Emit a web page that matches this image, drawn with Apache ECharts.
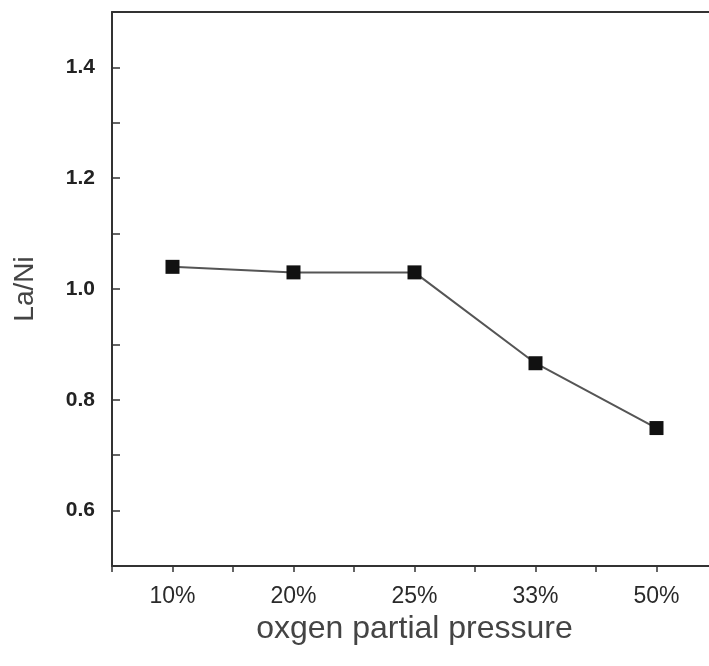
<!DOCTYPE html>
<html>
<head>
<meta charset="utf-8">
<script src="https://cdn.jsdelivr.net/npm/echarts@6/dist/echarts.min.js"></script>
<style>html,body{margin:0;padding:0;background:#fff;}#c{width:709px;height:666px;}</style>
</head>
<body>
<div id="c"></div>
<script>
var categories = ['10%', '20%', '25%', '33%', '50%'];
var laNi = [1.04, 1.03, 1.03, 0.866, 0.749];
var yLabels = ['0.6', '0.8', '1.0', '1.2', '1.4'];

var chart = echarts.init(document.getElementById('c'));
chart.setOption({
  animation: false,
  backgroundColor: '#fff',
  grid: { left: 112, top: 12, width: 605, bottom: 100, outerBoundsMode: 'none', show: false },
  xAxis: [{
    type: 'category', data: categories, position: 'bottom', boundaryGap: true,
    axisLine: { show: true, lineStyle: { color: '#333', width: 2 } },
    axisTick: { show: false },
    axisLabel: { color: '#2a2a2a', fontSize: 23, fontFamily: 'Liberation Sans, Arial', margin: 19 },
    name: 'oxgen partial pressure', nameLocation: 'middle', nameGap: 37,
    nameTextStyle: { color: '#444', fontSize: 32, fontFamily: 'Liberation Sans, Arial' }
  }, {
    type: 'value', position: 'bottom', min: 0, max: categories.length, interval: 0.5,
    splitLine: { show: false },
    axisLine: { show: false },
    axisTick: { show: true, inside: false, length: 6, lineStyle: { color: '#333', width: 1.5 } },
    axisLabel: { show: false }
  }, {
    type: 'category', data: categories, position: 'top', boundaryGap: true,
    axisLine: { show: true, lineStyle: { color: '#333', width: 2 } },
    axisTick: { show: false },
    axisLabel: { show: false }
  }],
  yAxis: {
    type: 'value', min: 0.5, max: 1.5, interval: 0.1,
    splitLine: { show: false },
    axisLine: { show: true, lineStyle: { color: '#333', width: 2 } },
    axisTick: { show: true, inside: true, length: 8, lineStyle: { color: '#333', width: 1.5 } },
    axisLabel: {
      color: '#222', fontSize: 21, fontWeight: 'bold', fontFamily: 'Liberation Sans, Arial', margin: 17,
      formatter: function (v) {
        var s = v.toFixed(1);
        return yLabels.indexOf(s) >= 0 ? s : '';
      }
    },
    name: 'La/Ni', nameLocation: 'middle', nameGap: 73, nameRotate: 90,
    nameTextStyle: { color: '#444', fontSize: 28, fontFamily: 'Liberation Sans, Arial' }
  },
  series: [{
    type: 'line', data: laNi, xAxisIndex: 0,
    symbol: 'rect', symbolSize: 14,
    itemStyle: { color: '#111' },
    lineStyle: { color: '#555', width: 2 }
  }]
});
</script>
</body>
</html>
